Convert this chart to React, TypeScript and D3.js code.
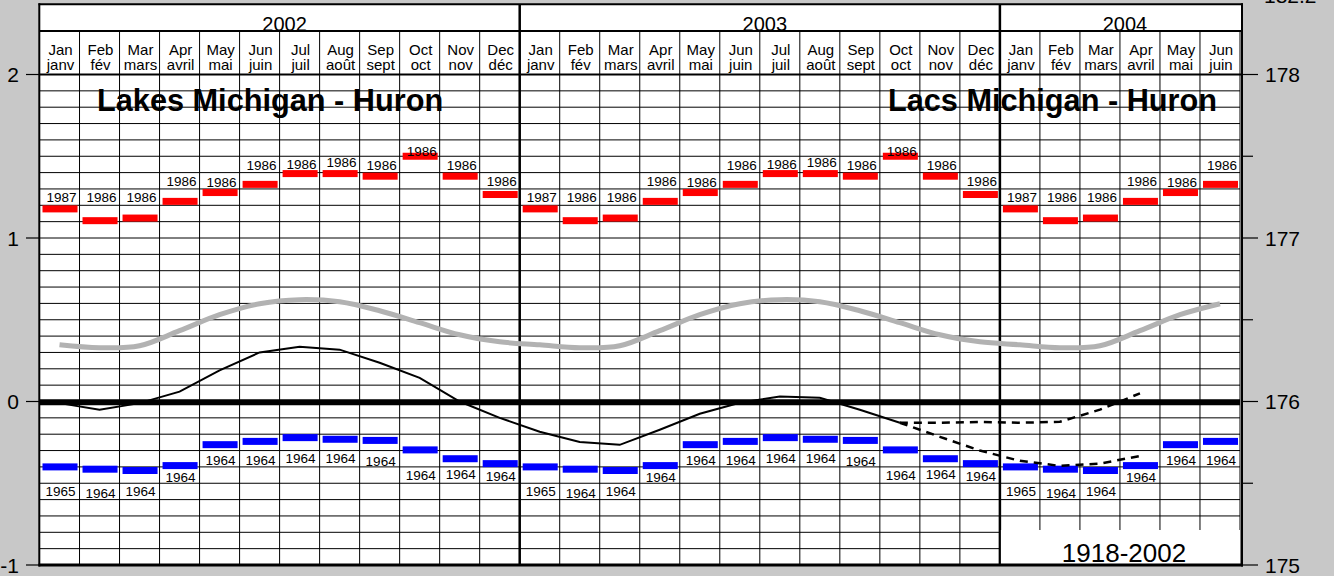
import React from "react";
import * as d3 from "d3";

// ---------- data ----------
const monthsEn = ["Jan", "Feb", "Mar", "Apr", "May", "Jun", "Jul", "Aug", "Sep", "Oct", "Nov", "Dec"];
const monthsFr = ["janv", "fév", "mars", "avril", "mai", "juin", "juil", "août", "sept", "oct", "nov", "déc"];
const years = ["2002", "2003", "2004"];
const yearMonthCounts = [12, 12, 6];

// record high (m, relative to chart datum) by calendar month and the year it occurred
const recordHigh = [1.178, 1.106, 1.122, 1.224, 1.278, 1.328, 1.394, 1.394, 1.378, 1.5, 1.378, 1.266];
const recordHighYear = ["1987", "1986", "1986", "1986", "1986", "1986", "1986", "1986", "1986", "1986", "1986", "1986"];
const recordHighLabelLevel = [1.246, 1.246, 1.246, 1.344, 1.34, 1.443, 1.449, 1.46, 1.447, 1.53, 1.447, 1.348];

// record low by calendar month
const recordLow = [-0.4, -0.414, -0.422, -0.392, -0.264, -0.244, -0.221, -0.231, -0.238, -0.296, -0.35, -0.38];
const recordLowYear = ["1965", "1964", "1964", "1964", "1964", "1964", "1964", "1964", "1964", "1964", "1964", "1964"];
const recordLowLabelLevel = [-0.552, -0.559, -0.552, -0.461, -0.357, -0.357, -0.345, -0.345, -0.363, -0.449, -0.446, -0.459];

// long-term monthly mean 1918-2002
const longTermMean = [0.347, 0.329, 0.341, 0.433, 0.531, 0.598, 0.623, 0.61, 0.555, 0.482, 0.408, 0.365];

// recorded levels Jan 2002 - Oct 2003
const recorded = [
  -0.01, -0.05, -0.01, 0.06, 0.19, 0.3, 0.335, 0.317, 0.237, 0.145, 0.0, -0.1,
  -0.185, -0.247, -0.265, -0.173, -0.075, -0.008, 0.03, 0.023, -0.05, -0.13,
];
// forecast envelope Oct 2003 - Apr 2004
const forecastHigh = [-0.13, -0.13, -0.125, -0.13, -0.124, -0.05, 0.05];
const forecastLow = [-0.13, -0.216, -0.3, -0.363, -0.394, -0.38, -0.333];

const leftTicks = [2, 1, 0, -1];
const rightTicks = [175, 176, 177, 178];
const rightMinorTicks = [175.5, 176.5, 177.5];

const NMONTHS = 30;

export default function App() {
  const W = 1334;
  const H = 576;
  const X0 = 39.5;
  const X1 = 1240;
  const TOP = 4.3;
  const YEAR_ROW = 31;
  const BOTTOM = 565;

  const x = d3.scaleBand<number>().domain(d3.range(NMONTHS)).range([X0, X1]).paddingInner(0).paddingOuter(0);
  const bw = x.bandwidth();
  const cx = (i: number) => (x(i) as number) + bw / 2;
  const y = d3.scaleLinear().domain([-1, 2]).range([BOTTOM, 74.5]);
  const yR = d3.scaleLinear().domain([175, 178]).range([BOTTOM, 74.5]);

  const monthIdx = d3.range(NMONTHS);
  const gridVals = d3.range(-10, 21).map((v) => v / 10);

  const meanPts: [number, number][] = monthIdx.map((i) => [i, longTermMean[i % 12]]);
  const recPts: [number, number][] = recorded.map((v, i) => [i, v]);
  const fHiPts: [number, number][] = forecastHigh.map((v, i) => [21 + i, v]);
  const fLoPts: [number, number][] = forecastLow.map((v, i) => [21 + i, v]);

  const smooth = d3
    .line<[number, number]>()
    .x((d) => cx(d[0]))
    .y((d) => y(d[1]))
    .curve(d3.curveCatmullRom.alpha(0.5));
  const linear = d3
    .line<[number, number]>()
    .x((d) => cx(d[0]))
    .y((d) => y(d[1]));
  const meanPath = smooth(meanPts) || "";
  const recPath = linear(recPts) || "";
  const fHiPath = linear(fHiPts) || "";
  const fLoPath = linear(fLoPts) || "";

  const yearStarts = yearMonthCounts.map((_, k) => d3.sum(yearMonthCounts.slice(0, k)));
  const font = "'Liberation Sans', Arial, sans-serif";

  return (
    <svg width={W} height={H} style={{ position: "absolute", left: 0, top: 0 }} fontFamily={font}>
      <defs>
        <clipPath id="yearClip">
          <rect x={X0} y={TOP} width={X1 - X0} height={YEAR_ROW - TOP} />
        </clipPath>
      </defs>
      <rect x={0} y={0} width={W} height={H} fill="#c8c8c8" />
      <rect x={X0} y={TOP} width={X1 + 2 - X0} height={BOTTOM - TOP} fill="#ffffff" />

      {/* horizontal grid */}
      {gridVals.map((v) => (
        <line key={"h" + v} x1={X0} x2={X1} y1={y(v)} y2={y(v)} stroke="#000" strokeWidth={1} />
      ))}
      {/* vertical month grid */}
      {d3.range(1, NMONTHS + 1).map((i) => {
        const xv = i === NMONTHS ? X1 : (x(i) as number);
        return <line key={"v" + i} x1={xv} x2={xv} y1={YEAR_ROW} y2={BOTTOM} stroke="#000" strokeWidth={1} />;
      })}
      {/* year separators */}
      {[12, 24].map((i) => (
        <line key={"ys" + i} x1={x(i) as number} x2={x(i) as number} y1={TOP} y2={BOTTOM} stroke="#000" strokeWidth={2.5} />
      ))}

      {/* year row */}
      <g clipPath="url(#yearClip)">
        {years.map((yr, k) => {
          const s = yearStarts[k];
          const e = s + yearMonthCounts[k];
          const mid = ((x(s) as number) + (e >= NMONTHS ? X1 : (x(e) as number))) / 2 + 5;
          return (
            <text key={yr} x={mid} y={30.5} fontSize={20} textAnchor="middle" fill="#000">
              {yr}
            </text>
          );
        })}
      </g>
      <line x1={X0} x2={X1 + 2} y1={YEAR_ROW} y2={YEAR_ROW} stroke="#000" strokeWidth={2} />
      <line x1={X0} x2={X1 + 2} y1={y(2)} y2={y(2)} stroke="#000" strokeWidth={2} />

      {/* month labels */}
      {monthIdx.map((i) => (
        <g key={"m" + i}>
          <text x={cx(i) + 1} y={54.5} fontSize={15} textAnchor="middle" fill="#000">
            {monthsEn[i % 12]}
          </text>
          <text x={cx(i) + 1} y={69.5} fontSize={15} textAnchor="middle" fill="#000">
            {monthsFr[i % 12]}
          </text>
        </g>
      ))}

      {/* titles */}
      <text x={97} y={110.5} fontSize={30.7} fontWeight="bold" fill="#000">
        Lakes Michigan - Huron
      </text>
      <text x={1217} y={110.5} fontSize={30.7} fontWeight="bold" textAnchor="end" fill="#000">
        Lacs Michigan - Huron
      </text>

      {/* zero line */}
      <line x1={X0} x2={X1} y1={y(0) + 0.8} y2={y(0) + 0.8} stroke="#000" strokeWidth={6} />

      {/* long-term mean */}
      <path d={meanPath} fill="none" stroke="#b2b2b2" strokeWidth={5} />

      {/* record highs */}
      {monthIdx.map((i) => (
        <g key={"rh" + i}>
          <rect x={(x(i) as number) + 3} y={y(recordHigh[i % 12]) - 3.5} width={bw - 5} height={7} fill="#ff0000" />
          <text x={cx(i) + 2} y={y(recordHighLabelLevel[i % 12]) + 4.7} fontSize={13.5} textAnchor="middle" fill="#000">
            {recordHighYear[i % 12]}
          </text>
        </g>
      ))}
      {/* record lows */}
      {monthIdx.map((i) => (
        <g key={"rl" + i}>
          <rect x={(x(i) as number) + 3} y={y(recordLow[i % 12]) - 3.5} width={bw - 5} height={7} fill="#0000ff" />
          <text x={cx(i) + 1} y={y(recordLowLabelLevel[i % 12]) + 4.7} fontSize={13.5} textAnchor="middle" fill="#000">
            {recordLowYear[i % 12]}
          </text>
        </g>
      ))}

      {/* recorded and forecast */}
      <path d={recPath} fill="none" stroke="#000" strokeWidth={2} />
      <path d={fHiPath} fill="none" stroke="#000" strokeWidth={2.5} strokeDasharray="8,6" />
      <path d={fLoPath} fill="none" stroke="#000" strokeWidth={2.5} strokeDasharray="8,6" />

      {/* period box */}
      <rect x={(x(24) as number) + 1} y={530} width={X1 - (x(24) as number) - 1} height={BOTTOM - 530} fill="#fff" />
      <text x={1124} y={562} fontSize={26} textAnchor="middle" fill="#000">
        1918-2002
      </text>

      {/* borders */}
      <line x1={X0 - 0.2} x2={X0 - 0.2} y1={TOP - 1} y2={BOTTOM + 1.5} stroke="#000" strokeWidth={2} />
      <line x1={X0 - 1} x2={X1 + 3} y1={TOP} y2={TOP} stroke="#000" strokeWidth={2} />
      <line x1={X1 + 2} x2={X1 + 2} y1={TOP - 1} y2={BOTTOM + 1.5} stroke="#000" strokeWidth={2} />
      <line x1={X0 - 1} x2={X1 + 3} y1={BOTTOM} y2={BOTTOM} stroke="#000" strokeWidth={3} />

      {/* left axis */}
      {leftTicks.map((t) => (
        <g key={"lt" + t}>
          <line x1={26} x2={X0} y1={y(t)} y2={y(t)} stroke="#000" strokeWidth={1.2} />
          <text x={19} y={y(t) + 7.5} fontSize={21} textAnchor="end" fill="#000">
            {t}
          </text>
        </g>
      ))}
      {/* right axis */}
      {rightTicks.map((t) => (
        <g key={"rt" + t}>
          <line x1={X1 + 3} x2={1258} y1={yR(t)} y2={yR(t)} stroke="#000" strokeWidth={1.2} />
          <text x={1265} y={yR(t) + 7.5} fontSize={21} fill="#000">
            {t}
          </text>
        </g>
      ))}
      {rightMinorTicks.map((t) => (
        <line key={"rm" + t} x1={X1 + 3} x2={1253} y1={yR(t)} y2={yR(t)} stroke="#000" strokeWidth={1.2} />
      ))}
      <text x={1264} y={3} fontSize={21} fill="#000">
        182.2
      </text>
    </svg>
  );
}
